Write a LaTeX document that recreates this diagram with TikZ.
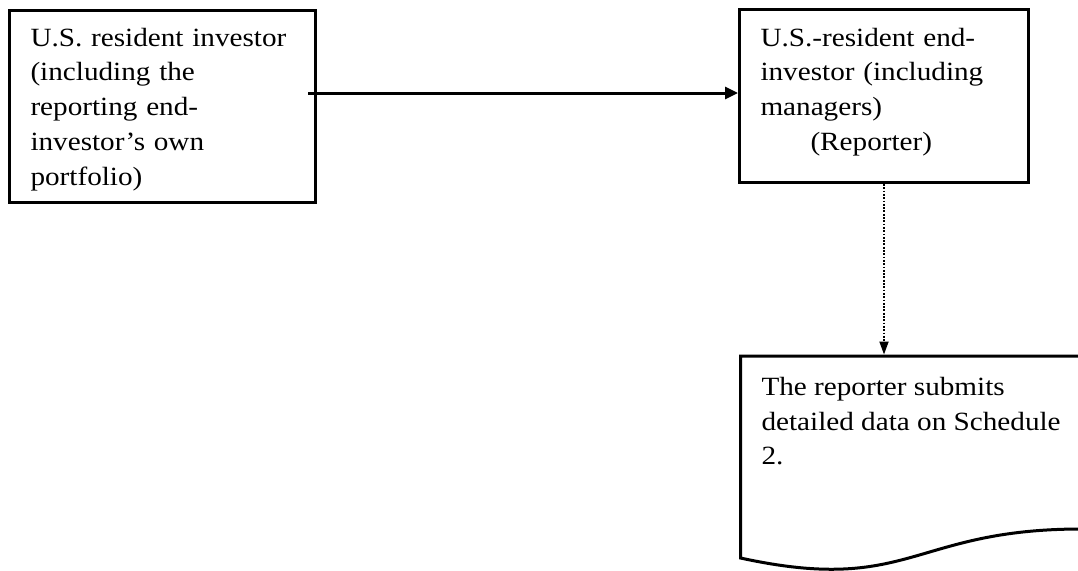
\documentclass[tikz,border=0pt]{standalone}
\usepackage{fontspec}
\setmainfont{Liberation Serif}[FakeStretch=1.11]
\usepackage{tikz}
\usetikzlibrary{arrows.meta, positioning, calc}

\begin{document}
\begin{tikzpicture}[
  x=1pt, y=1pt,
  entity/.style={
    draw, line width=3pt, align=left, anchor=north west,
    inner xsep=21pt, inner ysep=18.5pt, text height=18pt,
    font=\fontsize{26.3pt}{34.75pt}\selectfont
  },
  doctext/.style={
    align=left, anchor=north west, outer sep=0pt,
    inner xsep=21pt, inner ysep=21pt,
    font=\fontsize{26.3pt}{34.75pt}\selectfont
  },
  connector/.style={
    -{Triangle[length=13pt, width=12pt]}, line width=3pt
  },
  dotflow/.style={
    -{Triangle[length=13pt, width=9pt]}, line width=1.8pt,
    dash pattern=on 1.8pt off 1.5pt, shorten >=1.5pt
  }
]

\useasboundingbox (0,0) rectangle (1078,-570);

% Investor box
\node[entity, minimum width=306pt, minimum height=192pt, text width=264pt,
      inner ysep=17.5pt, text depth=139pt] (investor) at (8,-9) {
  U.S. resident investor\\
  (including the\\
  reporting end-\\
  investor’s own\\
  portfolio)
};

% Reporter box
\node[entity, minimum width=289pt, minimum height=173pt, text width=247pt,
      text depth=118pt] (reporter) at (738,-8) {
  U.S.-resident end-\\
  investor (including\\
  managers)\\
  \hspace*{50pt}(Reporter)
};

% Schedule document
\node[doctext] (schedule) at (740.5,-356) {
  The reporter submits\\
  detailed data on Schedule\\
  2.
};
\draw[line width=3pt] (schedule.north west) -- ++(341,0) -- ++(0,-173)
  .. controls +(-170,0) and +(170,-37) .. ++(-341,-29) -- cycle;

% Connections
\draw[connector] ([xshift=-9pt, yshift=13.5pt]investor.east) -- ([yshift=13.5pt]investor.east -| reporter.west);
\draw[dotflow] (reporter.south) -- (reporter.south |- schedule.north);

\end{tikzpicture}
\end{document}
